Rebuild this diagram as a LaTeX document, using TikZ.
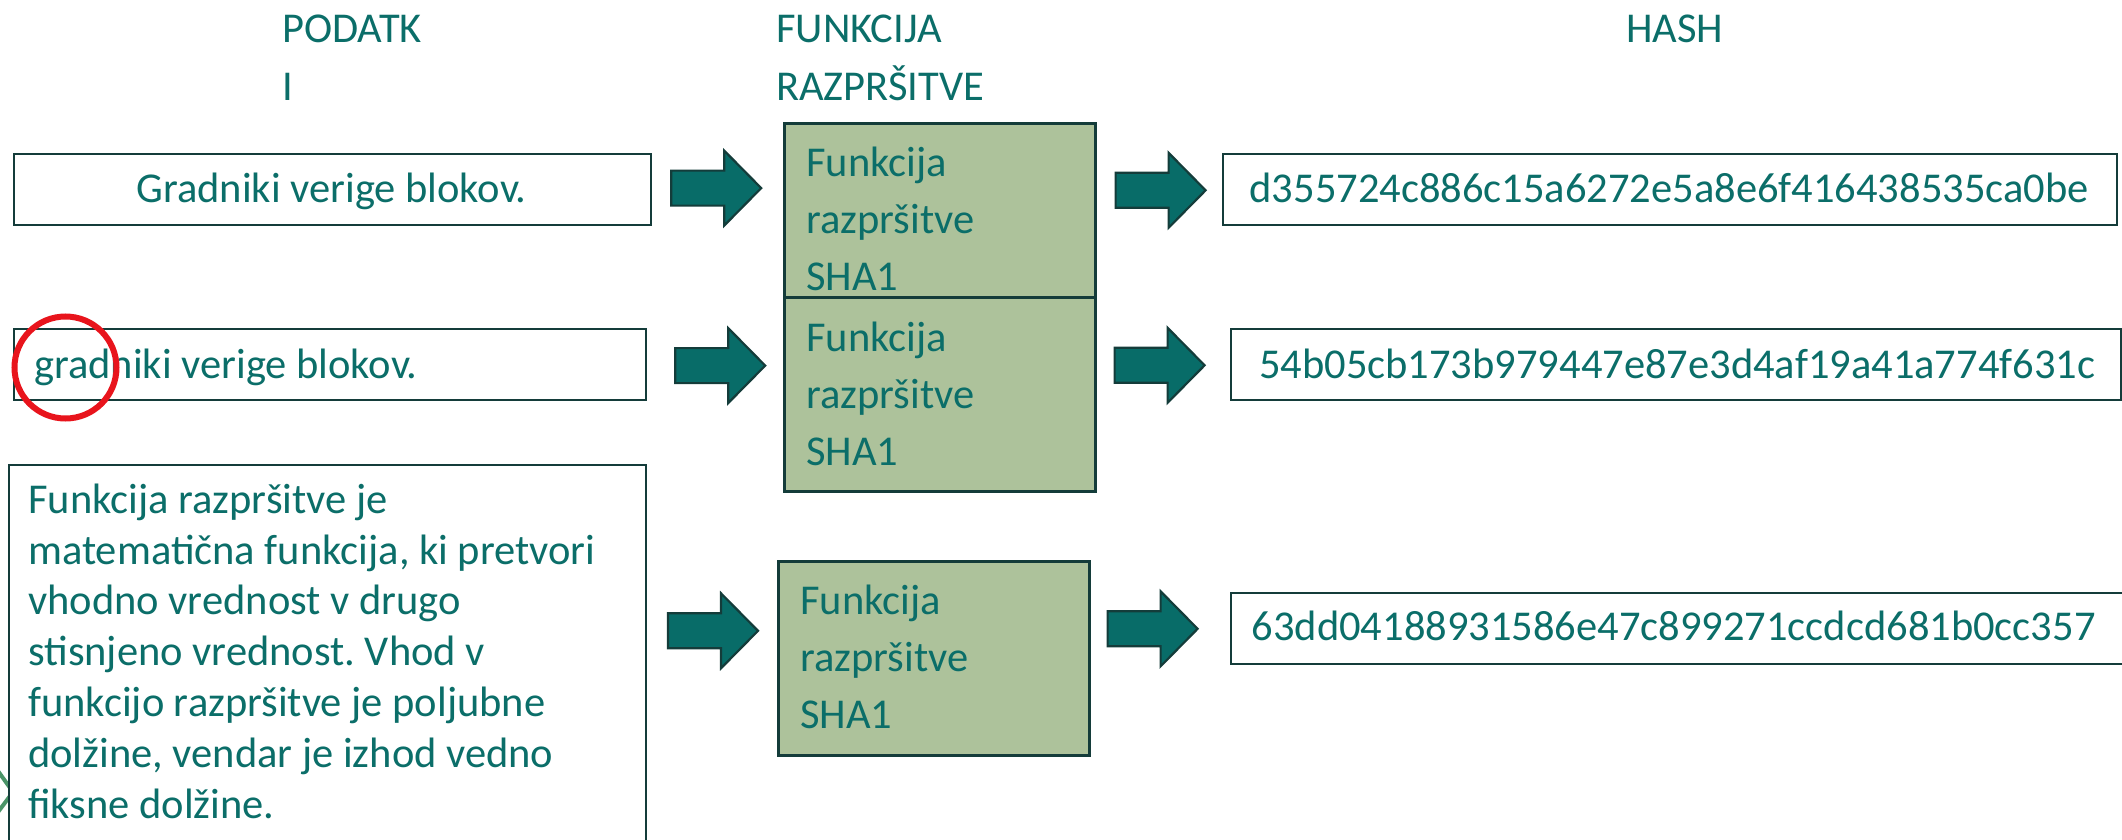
\documentclass[tikz,border=0pt]{standalone}
\usepackage{fontspec}
\setmainfont{Carlito}
\frenchspacing
\definecolor{ink}{HTML}{0B6E69}
\definecolor{arrowfill}{HTML}{086C68}
\definecolor{edge}{HTML}{143C3A}
\definecolor{sage}{HTML}{ADC29B}
\definecolor{markred}{HTML}{E8141C}
\definecolor{leafgreen}{HTML}{4A9468}
\tikzset{
  txt/.style={text=ink, inner sep=0pt, font=\fontsize{42.5pt}{57pt}\selectfont},
  head/.style={txt, align=left, anchor=base west, font=\fontsize{42.5pt}{58pt}\selectfont},
  plainbox/.style={draw=edge, line width=2.2pt, fill=white, inner sep=0pt, anchor=north west},
  funcbox/.style={draw=edge, line width=2.6pt, fill=sage, inner sep=0pt, anchor=north west},
  pics/blockarrow/.style={code={
    \draw[draw=edge, line width=2.2pt, fill=arrowfill, line join=miter]
      (0,-17.5) -- (53,-17.5) -- (53,-37.5) -- (90,0) -- (53,37.5) -- (53,17.5) -- (0,17.5) -- cycle;}}
}
\begin{document}
\begin{tikzpicture}[x=1pt,y=-1pt]
\useasboundingbox (0,0) rectangle (2122,840);

% column headings (multi-line nodes are placed by the baseline of their last line)
\node[head] (hdata) at (282,101) {PODATK\\I};
\node[head] (hfunc) at (776,101) {FUNKCIJA\\RAZPRŠITVE};
\node[head] (hhash) at (1626,43) {HASH};

% piece of a shape peeking in at the left edge
\draw[leafgreen, line width=4pt] (-2,771) -- (13,792) -- (-2,812);

% input data boxes
\node[plainbox, minimum width=637pt, minimum height=71pt] (d1) at (13,153) {};
\node[txt, anchor=base] (d1t) at (331.5,202) {Gradniki verige blokov.};
\node[plainbox, minimum width=632pt, minimum height=71pt] (d2) at (13,328) {};
\node[txt, anchor=base west] (d2t) at (34,378) {gradniki verige blokov.};
\node[plainbox, minimum width=637pt, minimum height=440pt] (d3) at (8,464) {};
\node[txt, align=left, anchor=base west, font=\fontsize{42.5pt}{50.8pt}\selectfont] (d3t) at (28,818)
  {Funkcija razpršitve je\\matematična funkcija, ki pretvori\\vhodno vrednost v drugo\\stisnjeno vrednost. Vhod v\\funkcijo razpršitve je poljubne\\dolžine, vendar je izhod vedno\\fiksne dolžine.};

% hash function boxes
\node[funcbox, minimum width=311pt, minimum height=174pt] (f1) at (783,122) {};
\node[funcbox, minimum width=311pt, minimum height=194pt] (f2) at (783,296) {};
\node[funcbox, minimum width=311pt, minimum height=194pt] (f3) at (777,560) {};
\node[txt, align=left, anchor=base west] (f1t) at (806,290) {Funkcija\\razpršitve\\SHA1};
\node[txt, align=left, anchor=base west] (f2t) at (806,465) {Funkcija\\razpršitve\\SHA1};
\node[txt, align=left, anchor=base west] (f3t) at (800,728) {Funkcija\\razpršitve\\SHA1};

% resulting hashes
\node[plainbox, minimum width=894pt, minimum height=71pt] (h1) at (1222,153) {};
\node[txt, anchor=base] (h1t) at (1669,202) {d355724c886c15a6272e5a8e6f416438535ca0be};
\node[plainbox, minimum width=890pt, minimum height=71pt] (h2) at (1230,328) {};
\node[txt, anchor=base] (h2t) at (1677,378) {54b05cb173b979447e87e3d4af19a41a774f631c};
\node[plainbox, minimum width=910pt, minimum height=71pt] (h3) at (1230,592) {};
\node[txt, anchor=base] (h3t) at (1673.5,640) {63dd04188931586e47c899271ccdcd681b0cc357};

% block arrows between the columns
\pic at ([xshift=19pt,yshift=1.5pt]d1.east) {blockarrow};
\pic at ([xshift=28pt,yshift=-1pt]d2.east) {blockarrow};
\pic at ([xshift=-109pt,yshift=27.5pt]f3.west) {blockarrow};
\pic at ([xshift=19pt,yshift=20pt]f1.east) {blockarrow};
\pic at ([xshift=18pt,yshift=29pt]f2.east) {blockarrow};
\pic at ([xshift=17pt,yshift=29.5pt]f3.east) {blockarrow};

% highlight of the changed letter
\node[circle, draw=markred, line width=6pt, minimum size=102pt, inner sep=0pt] (mark) at (65.5,367.5) {};
\end{tikzpicture}
\end{document}
